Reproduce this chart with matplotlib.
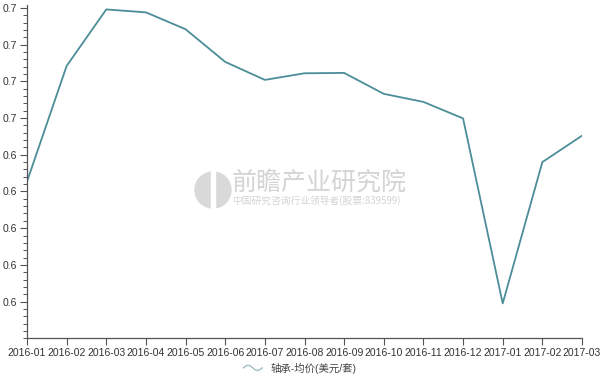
import matplotlib.pyplot as plt
import numpy as np
from matplotlib.legend_handler import HandlerBase
from matplotlib.lines import Line2D
from matplotlib.patches import Circle, Rectangle

plt.rcParams['font.family'] = ['Liberation Sans', 'Noto Sans CJK SC', 'DejaVu Sans']

months = ['2016-01', '2016-02', '2016-03', '2016-04', '2016-05', '2016-06', '2016-07',
          '2016-08', '2016-09', '2016-10', '2016-11', '2016-12', '2017-01', '2017-02', '2017-03']
price = [0.6327, 0.6642, 0.6796, 0.6788, 0.6742, 0.6653, 0.6604,
         0.6622, 0.6623, 0.6566, 0.6544, 0.6499, 0.5995, 0.6380, 0.6452]
y_ticks = [0.60, 0.61, 0.62, 0.63, 0.64, 0.65, 0.66, 0.67, 0.68]
y_labels = ['0.6', '0.6', '0.6', '0.6', '0.6', '0.7', '0.7', '0.7', '0.7']
series_name = '轴承-均价(美元/套)'

line_color = '#4b8d98'
axis_color = '#555555'


class WaveHandler(HandlerBase):
    # wavy legend icon like the original
    def create_artists(self, legend, orig_handle, xdescent, ydescent,
                       width, height, fontsize, trans):
        t = np.linspace(0, 1, 40)
        xs = -xdescent + t * width
        ys = -ydescent + height / 2 + 0.35 * height * np.sin(t * 2 * np.pi)
        ln = Line2D(xs, ys, color='#9fbfc4', lw=1.0, transform=trans)
        return [ln]


fig = plt.figure(figsize=(6, 3.77), dpi=100)
ax = fig.add_axes([0.045, 0.1027, 0.925, 0.884])

x = np.arange(len(months))
line, = ax.plot(x, price, color=line_color, lw=1.3, label=series_name)

ax.set_xlim(0, len(months) - 1)
ax.set_ylim(0.59, 0.6808)
ax.set_xticks(x)
ax.set_xticklabels(months)
ax.set_yticks(y_ticks)
ax.set_yticklabels(y_labels)
ax.set_yticks(np.arange(0.59, 0.6805, 0.002), minor=True)

for s in ['top', 'right']:
    ax.spines[s].set_visible(False)
for s in ['left', 'bottom']:
    ax.spines[s].set_color(axis_color)
    ax.spines[s].set_linewidth(0.9)

ax.tick_params(axis='both', which='major', length=5, width=0.8, color=axis_color,
               labelsize=7.5, labelcolor='#333333', pad=2)
ax.tick_params(axis='y', which='minor', length=3, width=0.7, color=axis_color)
ax.tick_params(axis='x', which='minor', length=0)

# watermark
fig.patches.append(Circle((213, 187), 18, transform=None, color='#d9d9d9', zorder=0))
fig.patches.append(Rectangle((211, 167), 4, 40, transform=None, color='white', zorder=0))
fig.text(232 / 600, 1 - 183 / 377, '前瞻产业研究院', fontsize=18, color='#d4d4d4',
         ha='left', va='center', family=['Noto Sans CJK SC', 'DejaVu Sans'])
fig.text(232 / 600, 1 - 201 / 377, '中国研究咨询行业领导者(股票:839599)', fontsize=7,
         color='#d4d4d4', ha='left', va='center', family=['Noto Sans CJK SC', 'DejaVu Sans'])

fig.legend(handles=[line], loc='center', bbox_to_anchor=(0.5, 1 - 368 / 377),
           frameon=False, fontsize=7.5, handler_map={Line2D: WaveHandler()},
           handlelength=1.8, handletextpad=0.8, labelcolor='#444444')

fig.savefig('out.png', dpi=100)
